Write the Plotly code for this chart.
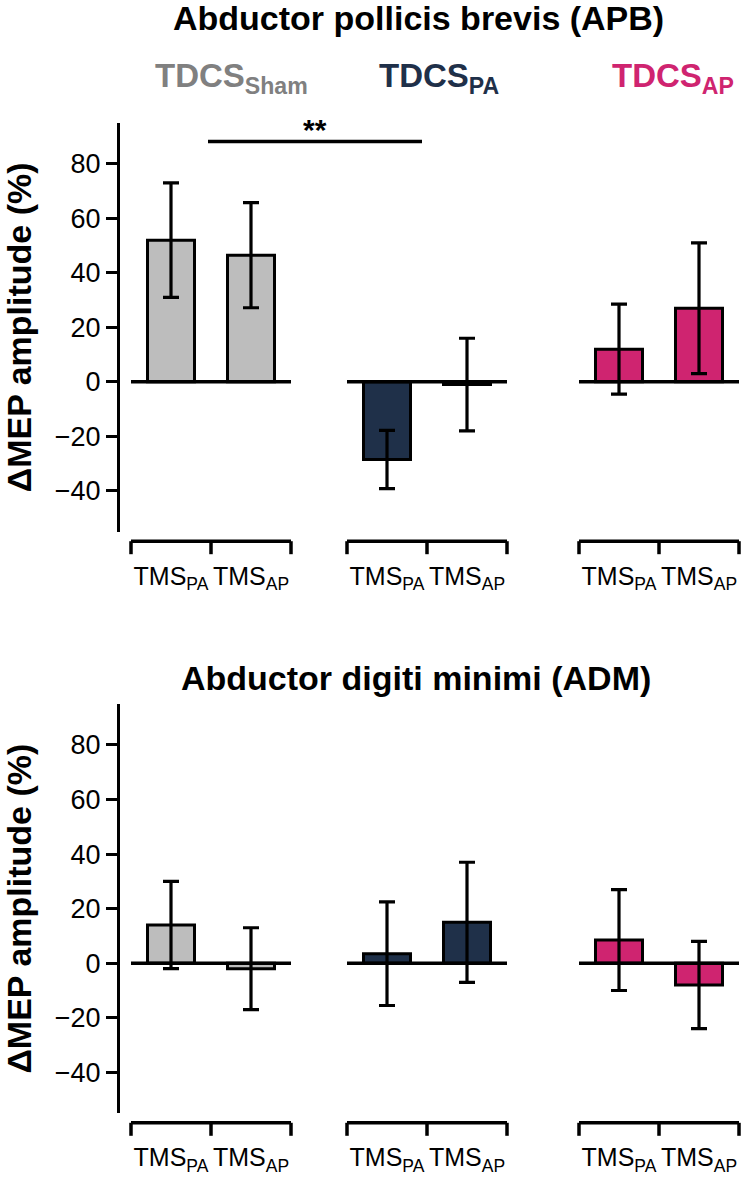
import plotly.graph_objects as go

# ---------------- data ----------------
tdcs_groups = ["Sham", "PA", "AP"]
tms_conditions = ["PA", "AP"]

apb_means = {"Sham": [52, 46.5], "PA": [-28.5, -1], "AP": [12, 27]}
apb_errs = {"Sham": [21, 19.3], "PA": [10.7, 17], "AP": [16.5, 24]}

adm_means = {"Sham": [14, -2], "PA": [3.5, 15], "AP": [8.5, -8]}
adm_errs = {"Sham": [16, 15], "PA": [19, 22], "AP": [18.5, 16]}

y_ticks = [-40, -20, 0, 20, 40, 60, 80]
panel_titles = ["Abductor pollicis brevis (APB)", "Abductor digiti minimi (ADM)"]
y_title = "ΔMEP amplitude (%)"
significance = "**"

# ---------------- style ----------------
bar_colors = {"Sham": "#bdbdbd", "PA": "#1f3049", "AP": "#cf2470"}
label_colors = {"Sham": "#808080", "PA": "#1f3049", "AP": "#cf2470"}
FONT = "Arial, 'Liberation Sans', sans-serif"

W, H = 742, 1178
group_centers = {"Sham": 211, "PA": 427, "AP": 659}
half_gap = 40
bar_w = 47
x_range = [120, 742]
x_dom = [120 / W, 1.0]
y_range = [-55, 95]
top_dom = [1 - 531.7 / H, 1 - 123 / H]
bot_dom = [1 - 1113.3 / H, 1 - 704 / H]

fig = go.Figure()

panels = [(apb_means, apb_errs, "x", "y"), (adm_means, adm_errs, "x2", "y2")]
for means, errs, xa, ya in panels:
    for g in tdcs_groups:
        c = group_centers[g]
        xs = [c - half_gap, c + half_gap]
        fig.add_trace(go.Bar(
            x=xs, y=means[g], width=bar_w,
            marker=dict(color=bar_colors[g], line=dict(color="black", width=3)),
            error_y=dict(type="data", array=errs[g], color="black", thickness=3.2, width=8),
            xaxis=xa, yaxis=ya, showlegend=False,
        ))

tickvals = []
ticktext = []
for g in tdcs_groups:
    c = group_centers[g]
    for i, t in enumerate(tms_conditions):
        tickvals.append(c + (-half_gap if i == 0 else half_gap))
        ticktext.append(f"TMS<sub>{t}</sub>")

xcommon = dict(range=x_range, domain=x_dom, showline=False, showgrid=False, zeroline=False,
               tickvals=tickvals, ticktext=ticktext, ticks="",
               tickfont=dict(family=FONT, size=25, color="black"), ticklabelstandoff=27)
ycommon = dict(range=y_range, showline=True, linewidth=3.2, linecolor="black", showgrid=False,
               zeroline=False, tickvals=y_ticks, ticks="outside", ticklen=11, tickwidth=3,
               tickcolor="black", tickfont=dict(family=FONT, size=27, color="black"),
               title=dict(text=f"<b>{y_title}</b>", font=dict(family=FONT, size=34, color="black"),
                          standoff=17))

fig.update_layout(
    width=W, height=H, margin=dict(l=0, r=0, t=0, b=0),
    plot_bgcolor="white", paper_bgcolor="white", barmode="overlay",
    xaxis=dict(**xcommon, anchor="y"),
    yaxis=dict(**ycommon, domain=top_dom, anchor="x"),
    xaxis2=dict(**xcommon, anchor="y2"),
    yaxis2=dict(**ycommon, domain=bot_dom, anchor="x2"),
)

shapes = []
annotations = []
for (xa, ya, dom) in [("x", "y", top_dom), ("x2", "y2", bot_dom)]:
    y_bracket = dom[0] - 9.5 / H
    y_tick_end = y_bracket - 13 / H
    for g in tdcs_groups:
        c = group_centers[g]
        # zero line per group
        shapes.append(dict(type="line", xref=xa, yref=ya, x0=c - 2 * half_gap, x1=c + 2 * half_gap,
                           y0=0, y1=0, line=dict(color="black", width=3.5), layer="above"))
        # bracket under group
        shapes.append(dict(type="line", xref=xa, yref="paper", x0=c - 2 * half_gap, x1=c + 2 * half_gap,
                           y0=y_bracket, y1=y_bracket, line=dict(color="black", width=3.5)))
        for dx in (-2 * half_gap, 0, 2 * half_gap):
            shapes.append(dict(type="line", xref=xa, yref="paper", x0=c + dx, x1=c + dx,
                               y0=y_bracket, y1=y_tick_end, line=dict(color="black", width=3.5)))

# significance line (top panel, Sham vs PA)
shapes.append(dict(type="line", xref="x", yref="y", x0=group_centers["Sham"] - 3,
                   x1=group_centers["PA"] - 5, y0=88.2, y1=88.2, line=dict(color="black", width=3.5)))
annotations.append(dict(xref="x", yref="y", x=(group_centers["Sham"] + group_centers["PA"]) / 2 - 4,
                        y=88.2, yanchor="bottom", text=f"<b>{significance}</b>", showarrow=False,
                        font=dict(family=FONT, size=30, color="black"), yshift=-6))

# panel titles
annotations.append(dict(xref="paper", yref="paper", x=418 / W, y=1 - 18 / H, xanchor="center",
                        yanchor="middle", text=f"<b>{panel_titles[0]}</b>",
                        showarrow=False, font=dict(family=FONT, size=34, color="black")))
annotations.append(dict(xref="paper", yref="paper", x=416 / W, y=1 - 678 / H, xanchor="center",
                        yanchor="middle", text=f"<b>{panel_titles[1]}</b>",
                        showarrow=False, font=dict(family=FONT, size=34, color="black")))

# TDCS labels
tdcs_left = {"Sham": 153, "PA": 377, "AP": 610}
for g in tdcs_groups:
    annotations.append(dict(xref="paper", yref="paper", x=tdcs_left[g] / W, y=1 - 78 / H,
                            xanchor="left", yanchor="middle",
                            text=f"<b>TDCS<sub>{g}</sub></b>", showarrow=False,
                            font=dict(family=FONT, size=33, color=label_colors[g])))

fig.update_layout(shapes=shapes, annotations=annotations)
fig.write_html("out.html", config={"displayModeBar": False},
               post_script="document.body.style.margin='0';document.body.style.overflow='hidden';")
